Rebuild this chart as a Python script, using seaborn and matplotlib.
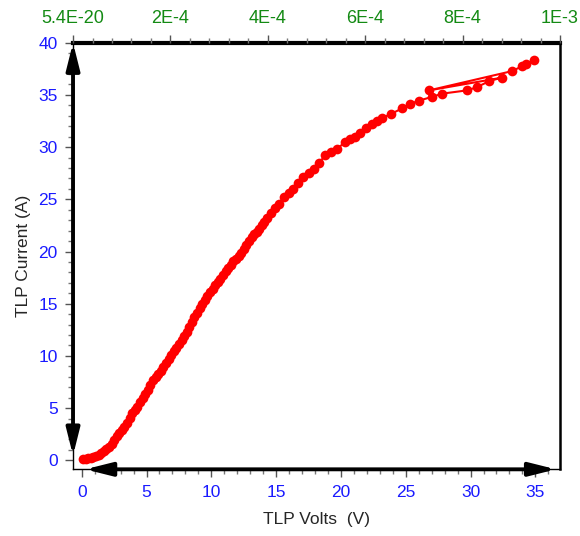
import matplotlib
matplotlib.use("Agg")
import matplotlib.pyplot as plt
import seaborn as sns
from matplotlib.ticker import MultipleLocator, FixedLocator, FixedFormatter

# TLP sweep (last points loop back once)
volts = [0.1, 0.3, 0.5, 0.7, 0.9, 1.1, 1.3, 1.5, 1.7, 1.9, 2.1, 2.3, 2.5, 2.7, 2.9,
         3.1, 3.3, 3.5, 3.7, 3.9, 4.1, 4.3, 4.5, 4.7, 4.9, 5.1, 5.3, 5.5, 5.7, 5.9,
         6.1, 6.3, 6.5, 6.7, 6.9, 7.1, 7.3, 7.5, 7.7, 7.9, 8.1, 8.3, 8.5, 8.7, 8.9,
         9.1, 9.3, 9.5, 9.7, 9.9, 10.1, 10.3, 10.5, 10.7, 10.9, 11.1, 11.3, 11.5,
         11.7, 11.9, 12.1, 12.3, 12.5, 12.7, 12.9, 13.1, 13.3, 13.5, 13.7, 13.9,
         14.1, 14.3, 14.6, 14.9, 15.2, 15.6, 16.0, 16.3, 16.7, 17.1, 17.5, 17.9,
         18.3, 18.8, 19.2, 19.7, 20.3, 20.7, 21.1, 21.5, 21.9, 22.4, 22.8, 23.2,
         23.9, 24.7, 25.3, 26.0, 27.0, 27.8, 29.75, 30.5, 31.45, 32.4, 26.82,
         33.2, 33.95, 34.26, 34.9]
current = [0.15, 0.15, 0.2, 0.25, 0.33, 0.42, 0.55, 0.68, 0.85, 1.05, 1.3, 1.6, 1.95,
           2.3, 2.6, 2.9, 3.2, 3.6, 4.05, 4.5, 4.85, 5.1, 5.55, 6.0, 6.35, 6.75, 7.2,
           7.65, 7.95, 8.25, 8.6, 8.95, 9.35, 9.7, 10.05, 10.45, 10.8, 11.15, 11.5,
           11.9, 12.3, 12.8, 13.25, 13.7, 14.1, 14.55, 15.0, 15.4, 15.75, 16.1, 16.4,
           16.75, 17.05, 17.4, 17.75, 18.1, 18.45, 18.75, 19.05, 19.3, 19.6, 19.9,
           20.25, 20.6, 21.0, 21.35, 21.65, 21.9, 22.2, 22.5, 22.8, 23.2, 23.7,
           24.15, 24.6, 25.2, 25.65, 26.0, 26.6, 27.1, 27.5, 27.95, 28.5, 29.2,
           29.5, 29.85, 30.45, 30.75, 31.0, 31.35, 31.8, 32.25, 32.5, 32.8, 33.2,
           33.7, 34.1, 34.45, 34.8, 35.12, 35.44, 35.75, 36.33, 36.65, 35.44,
           37.28, 37.73, 37.99, 38.3]

top_ticks = [0, 2e-4, 4e-4, 6e-4, 8e-4, 1e-3]
top_labels = ["5.4E-20", "2E-4", "4E-4", "6E-4", "8E-4", "1E-3"]

sns.set_style("ticks")
plt.rcParams["font.family"] = ["Liberation Sans", "DejaVu Sans"]

fig = plt.figure(figsize=(5.8, 5.36), dpi=100)
ax = fig.add_axes([0.1259, 0.1244, 0.8396, 0.7959])

sns.lineplot(x=volts, y=current, sort=False, estimator=None, color="red",
             marker="o", markersize=7, markeredgewidth=0, linewidth=1.5, ax=ax)

xmin, xmax = -0.67, 36.9
ymin, ymax = -0.86, 40
ax.set_xlim(xmin, xmax)
ax.set_ylim(ymin, ymax)
ax.xaxis.set_major_locator(MultipleLocator(5))
ax.xaxis.set_minor_locator(MultipleLocator(1))
ax.yaxis.set_major_locator(MultipleLocator(5))
ax.yaxis.set_minor_locator(MultipleLocator(1))
ax.tick_params(which="major", length=6, width=1, color="#555555",
               labelsize=12.5, labelcolor="#1a1aff", pad=5)
ax.tick_params(which="minor", length=3.5, width=1, color="#777777")
ax.set_xlabel("TLP Volts  (V)", fontsize=12.5, labelpad=9)
ax.set_ylabel("TLP Current (A)", fontsize=12.5, labelpad=5)

for side in ["left", "bottom"]:
    ax.spines[side].set_linewidth(1)
ax.spines["right"].set_linewidth(1.8)
ax.spines["top"].set_linewidth(3)
for s in ax.spines.values():
    s.set_color("black")

# top axis
top = ax.twiny()
top.set_xlim(0, 1e-3)
top.xaxis.set_major_locator(FixedLocator(top_ticks))
top.xaxis.set_major_formatter(FixedFormatter(top_labels))
top.xaxis.set_minor_locator(MultipleLocator(4e-5))
top.tick_params(which="major", length=6, width=1, color="#555555",
                labelsize=13, labelcolor="#138a13", pad=5)
top.tick_params(which="minor", length=3.5, width=1, color="#777777")
for s in top.spines.values():
    s.set_visible(False)

# double headed axis arrows
arrow = dict(arrowstyle="<|-|>,head_length=0.8,head_width=0.2", lw=2.8,
             color="black", mutation_scale=20, shrinkA=0, shrinkB=0)
ax.annotate("", xy=(xmin, ymax), xytext=(xmin, 0.45), arrowprops=arrow,
            annotation_clip=False)
ax.annotate("", xy=(36.6, ymin), xytext=(0.26, ymin), arrowprops=arrow,
            annotation_clip=False)

fig.savefig("out.png", dpi=100)
